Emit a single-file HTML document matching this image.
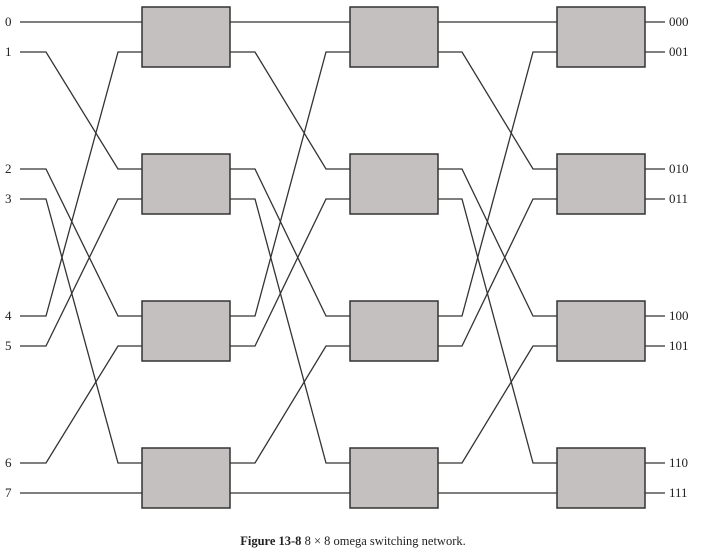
<!DOCTYPE html>
<html><head><meta charset="utf-8"><style>
body{margin:0;background:#fff;}
svg{display:block;}
text{font-family:"Liberation Serif",serif;fill:#222;}
</style></head><body>
<svg id="net" width="706" height="560" viewBox="0 0 706 560">
<text x="353" y="545" text-anchor="middle" font-size="12.5"><tspan font-weight="bold">Figure 13-8</tspan>   8 × 8 omega switching network.</text>
</svg>
<script>
const inputLabels=["0","1","2","3","4","5","6","7"];
const outputLabels=["000","001","010","011","100","101","110","111"];
const stages=3;
const ns="http://www.w3.org/2000/svg";
const svg=document.getElementById('net');
const boxTops=[7,154,301,448];
const colX=[142,350,557];
const boxW=88, boxH=60;
function portY(i){return boxTops[Math.floor(i/2)]+15+(i%2)*30;}
function shuffle(i){return ((i<<1)&7)|(i>>2);}
function line(pts,name){
  const p=document.createElementNS(ns,'polyline');
  p.setAttribute('points',pts.map(a=>a.join(',')).join(' '));
  p.setAttribute('fill','none');p.setAttribute('stroke','#333');p.setAttribute('stroke-width','1.3');
  
  
  svg.appendChild(p);
}
const startX=[20,230,437];
for(let s=0;s<stages;s++){
  const x0=startX[s], x1=colX[s];
  for(let i=0;i<8;i++){
    const j=shuffle(i);
    const a=x0+(s===0?26:25), b=x1-24;
    line([[x0,portY(i)],[a,portY(i)],[b,portY(j)],[x1,portY(j)]],'wire-stage'+(s+1)+'-'+i);
  }
}
for(let i=0;i<8;i++){
  line([[644,portY(i)],[665,portY(i)]],'output-wire-'+i);
  const t=document.createElementNS(ns,'text');
  t.setAttribute('x',5);t.setAttribute('y',portY(i)+4);t.setAttribute('font-size','13');
  t.textContent=inputLabels[i];
  
  
  svg.appendChild(t);
  const o=document.createElementNS(ns,'text');
  o.setAttribute('x',669);o.setAttribute('y',portY(i)+4);o.setAttribute('font-size','13');
  o.textContent=outputLabels[i];
  
  
  svg.appendChild(o);
}
for(let s=0;s<stages;s++){for(let r=0;r<4;r++){
  const b=document.createElementNS(ns,'rect');
  b.setAttribute('x',colX[s]);b.setAttribute('y',boxTops[r]);b.setAttribute('width',boxW);b.setAttribute('height',boxH);
  b.setAttribute('fill','#c4c0c0');b.setAttribute('stroke','#333');b.setAttribute('stroke-width','1.5');
  
  
  svg.appendChild(b);
}}
</script>
</body></html>
